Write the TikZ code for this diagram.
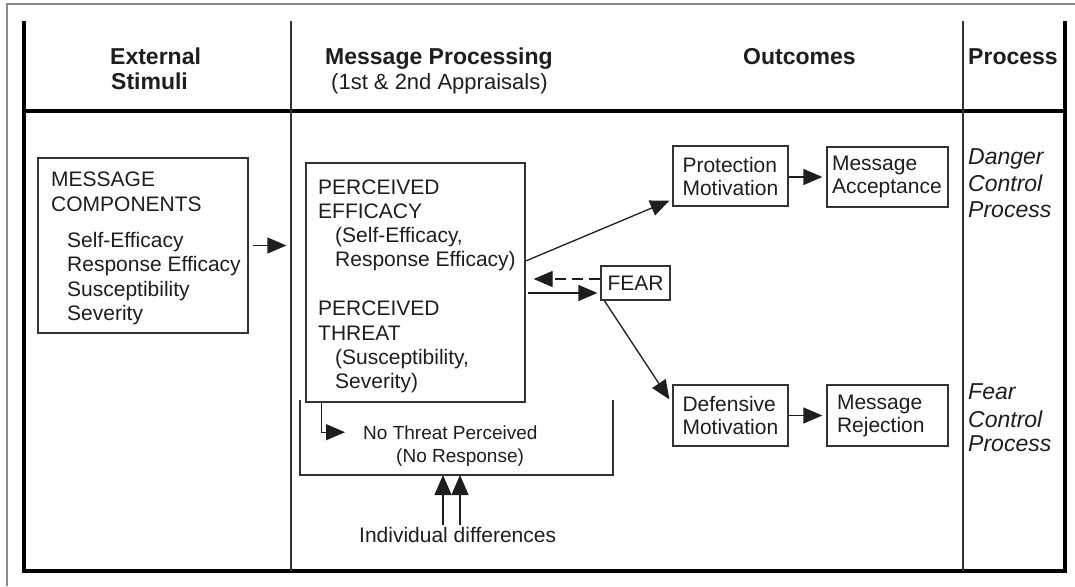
\documentclass[tikz,border=0pt]{standalone}
\usepackage{fontspec}
\setmainfont{Liberation Sans}
\usetikzlibrary{arrows.meta}
\definecolor{ink}{HTML}{1E1E1E}
\definecolor{boxc}{HTML}{333333}
\definecolor{framec}{HTML}{8A8A8A}
\begin{document}
\begin{tikzpicture}[x=1pt,y=-1pt,
  txt/.style={anchor=base west, inner sep=0pt, text=ink, font=\fontsize{21}{24}\selectfont},
  smalltxt/.style={anchor=base west, inner sep=0pt, text=ink, font=\fontsize{19}{22}\selectfont},
  hdr/.style={anchor=base west, inner sep=0pt, text=ink, font=\fontsize{23}{26}\selectfont\bfseries},
  hdrreg/.style={anchor=base west, inner sep=0pt, text=ink, font=\fontsize{22}{26}\selectfont},
  ital/.style={anchor=base west, inner sep=0pt, text=ink, font=\fontsize{23}{26}\selectfont\itshape},
  boxstyle/.style={draw=boxc, line width=1.3pt, inner sep=0pt},
  tbox/.style={boxstyle, align=left, text=ink, font=\fontsize{21}{23}\selectfont},
  arr/.style={draw=ink, line width=1.3pt, -{Triangle[length=19pt,width=16pt]}},
  uparr/.style={draw=ink, line width=1.3pt, -{Triangle[length=20pt,width=17pt]}},
  thickline/.style={draw=black, line width=4.5pt, line join=miter},
  sepline/.style={draw=boxc, line width=1.4pt},
]
\useasboundingbox (0,0) rectangle (1075,586);
\fill[white] (0,0) rectangle (1075,586);

% outer grey frame (only top and left visible)
\draw[framec, line width=1.4pt] (7,586) -- (7,4) -- (1075,4);

% table frame
\draw[thickline] (24,21) -- (24,571) -- (1065,571) -- (1065,21);
\draw[black, line width=3.5pt] (24,111) -- (1065,111);
\draw[sepline] (291,21) -- (291,571);
\draw[sepline] (963,21) -- (963,571);

% headers
\node[hdr] (h1a) at (110,64) {External};
\node[hdr] (h1b) at (111,89) {Stimuli};
\node[hdr] (h2a) at (325,64) {Message Processing};
\node[hdrreg] (h2b) at (331,89) {(1st \& 2nd Appraisals)};
\node[hdr] (h3) at (743,64) {Outcomes};
\node[hdr] (h4) at (968,64) {Process};

% message components
\node[boxstyle, minimum width=210pt, minimum height=175pt] (mc) at (143,245.5) {};
\node[txt] (mc1) at (51,186.5) {MESSAGE};
\node[txt] (mc2) at (51,211) {COMPONENTS};
\node[txt] (mc3) at (67,247) {Self-Efficacy};
\node[txt] (mc4) at (67,271.5) {Response Efficacy};
\node[txt] (mc5) at (67,296) {Susceptibility};
\node[txt] (mc6) at (67,320.5) {Severity};

% perceived box
\node[boxstyle, minimum width=219pt, minimum height=239pt] (pe) at (415.5,282.5) {};
\node[txt] (pe1) at (318,194.5) {PERCEIVED};
\node[txt] (pe2) at (318,218) {EFFICACY};
\node[txt] (pe3) at (335,242) {(Self-Efficacy,};
\node[txt] (pe4) at (335,266) {Response Efficacy)};
\node[txt] (pe5) at (318,315.5) {PERCEIVED};
\node[txt] (pe6) at (318,340) {THREAT};
\node[txt] (pe7) at (335,364.5) {(Susceptibility,};
\node[txt] (pe8) at (335,388.5) {Severity)};

% fear
\node[tbox, minimum width=69pt, minimum height=34pt, align=center] (fear) at (635.5,283) {FEAR};

% outcome boxes
\node[tbox, minimum width=115pt, minimum height=60pt, text width=96pt, inner xsep=9.5pt] (pm) at (730.5,176) {Protection\\Motivation};
\node[tbox, minimum width=121pt, minimum height=60pt, text width=111pt, inner xsep=5pt] (ma) at (887.5,177) {Message\\Acceptance};
\node[tbox, minimum width=115pt, minimum height=61pt, text width=96pt, inner xsep=9.5pt] (dm) at (730.5,415.5) {Defensive\\Motivation};
\node[tbox, minimum width=121pt, minimum height=61pt, text width=101pt, inner xsep=10pt] (mr) at (887.5,415.5) {Message\\Rejection};

% process labels
\node[ital] (dp1) at (968,164) {Danger};
\node[ital] (dp2) at (968,191) {Control};
\node[ital] (dp3) at (968,217) {Process};
\node[ital] (fp1) at (968,399) {Fear};
\node[ital] (fp2) at (968,427) {Control};
\node[ital] (fp3) at (968,451) {Process};

% no threat bracket
\coordinate (bl) at (300,400);
\coordinate (br) at (613,400);
\draw[boxc, line width=1.3pt] (bl) -- (300,475) -- (613,475) -- (br);
\node[smalltxt] (nt1) at (363,439) {No Threat Perceived};
\node[smalltxt] (nt2) at (396,462) {(No Response)};
\node[txt] (ind) at (359,542) {Individual differences};
\coordinate (u1) at (443,475);
\coordinate (u2) at (460,475);

% connectors
\draw[arr, shorten <=4pt, shorten >=19pt] (mc.east) -- (mc.east -| pe.west);
\coordinate (fs) at ([yshift=-10pt]fear.west);
\coordinate (fd) at ([yshift=4pt]fear.west);
\draw[arr, shorten <=2pt, shorten >=3pt] (pe.east |- fs) -- (fs);
\draw[arr, dash pattern=on 11pt off 6pt, shorten >=8pt] (fd) -- (pe.east |- fd);
\draw[arr] ([yshift=21.5pt]pe.east) -- ([shift={(-3pt,6pt)}]pm.south west);
\draw[arr] ([xshift=4pt]fear.south west) -- ([shift={(-3pt,-15pt)}]dm.north west);
\draw[arr, shorten >=4pt] (pm.east |- ma.west) -- (ma.west);
\draw[arr, shorten >=4pt] (dm.east |- mr.west) -- (mr.west);
\draw[arr, shorten >=18pt] ([xshift=16pt]pe.south west) |- (nt1.west);
\draw[uparr, shorten <=2pt] (u1 |- ind.north) -- (u1);
\draw[uparr, shorten <=2pt] (u2 |- ind.north) -- (u2);
\end{tikzpicture}
\end{document}
